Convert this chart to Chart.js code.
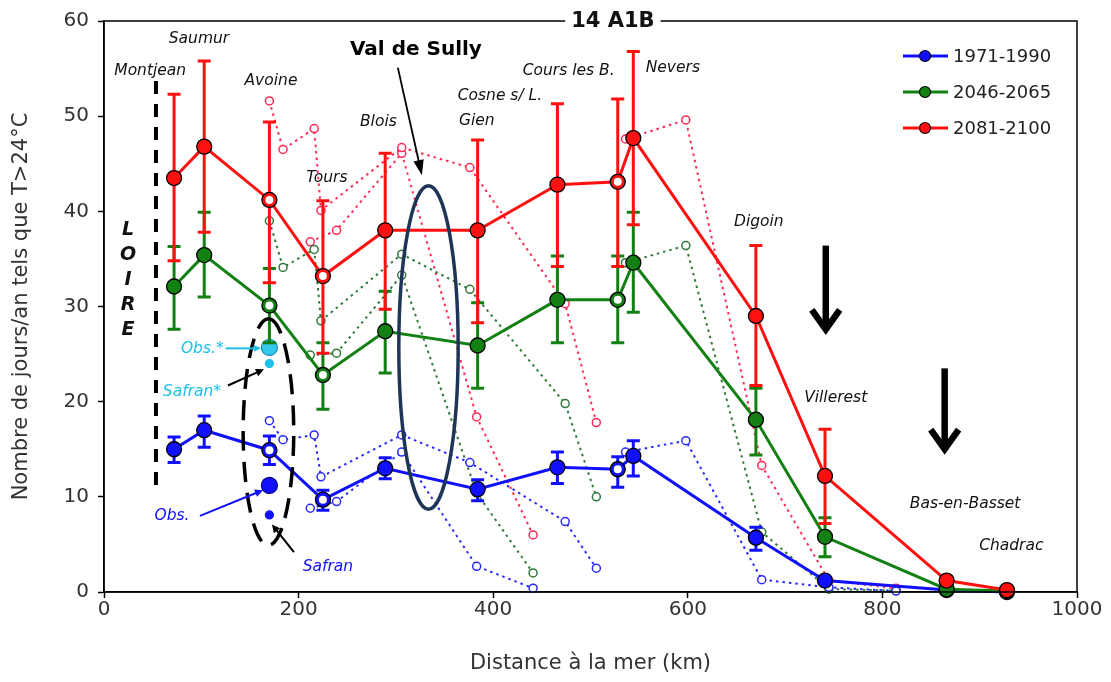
<!DOCTYPE html>
<html>
<head>
<meta charset="utf-8">
<script src="https://cdn.jsdelivr.net/npm/chart.js@4.4.1/dist/chart.umd.min.js"></script>
<style>
  html, body { margin: 0; padding: 0; background: #fff; }
</style>
</head>
<body>
<canvas id="chart" width="1111" height="682"></canvas>
<script>
// stations along the Loire, distance to the sea (km)
const stations = ['Montjean', 'Saumur', 'Avoine', 'Tours', 'Blois', 'Gien', 'Cosne s/ L.',
  'Cours les B.', 'Nevers', 'Digoin', 'Villerest', 'Bas-en-Basset', 'Chadrac'];
const distKm = [72, 103, 170, 225, 289, 384, 466, 528, 544, 670, 741, 866, 928];

// days/year with T > 24°C, with spread
const ref1971 = [15.0, 17.0, 14.9, 9.7, 13.0, 10.8, 13.1, 12.9, 14.3, 5.7, 1.2, 0.2, 0.0];
const ref1971Low = [13.6, 15.2, 13.4, 8.6, 11.9, 9.6, 11.4, 11.0, 12.2, 4.4, null, null, null];
const ref1971High = [16.3, 18.5, 16.4, 10.7, 14.1, 11.8, 14.7, 14.2, 15.9, 6.8, null, null, null];
const mid2046 = [32.1, 35.4, 30.1, 22.8, 27.4, 25.9, 30.7, 30.7, 34.6, 18.1, 5.8, 0.3, 0.1];
const mid2046Low = [27.6, 31.0, 26.2, 19.2, 23.0, 21.4, 26.2, 26.2, 29.4, 14.4, 3.7, null, null];
const mid2046High = [36.3, 39.9, 34.0, 26.2, 31.6, 30.4, 35.3, 35.3, 39.9, 21.4, 7.8, null, null];
const end2081 = [43.5, 46.8, 41.2, 33.2, 38.0, 38.0, 42.8, 43.1, 47.7, 29.0, 12.2, 1.2, 0.2];
const end2081Low = [34.8, 37.8, 32.5, 25.1, 29.7, 28.3, 34.2, 34.2, 38.6, 21.7, 7.2, null, null];
const end2081High = [52.3, 55.8, 49.4, 41.1, 46.1, 47.5, 51.3, 51.8, 56.8, 36.4, 17.1, null, null];
const ringIdx = [2, 3, 7]; // stations drawn with an open centre

// tributaries (dotted)
const tribKmA = [170, 184, 216, 223, 306, 376, 474, 506];
const tribKmB = [212, 239, 306, 383, 441];
const tribKmC = [536, 598, 676, 745, 814];
const blueTribA = [18.0, 16.0, 16.5, 12.1, 16.5, 13.6, 7.4, 2.5];
const greenTribA = [39.0, 34.1, 36.0, 28.5, 35.5, 31.8, 19.8, 10.0];
const redTribA = [51.6, 46.5, 48.7, 40.1, 46.7, 44.6, 30.3, 17.8];
const blueTribB = [8.8, 9.5, 14.7, 2.7, 0.4];
const greenTribB = [24.9, 25.1, 33.3, 10.4, 2.0];
const redTribB = [36.8, 38.0, 46.1, 18.4, 6.0];
const blueTribC = [14.7, 15.9, 1.3, 0.5, 0.1];
const greenTribC = [34.6, 36.4, 6.3, 0.3, 0.15];
const redTribC = [47.6, 49.6, 13.3, 1.2, 0.4];

// observations at Avoine
const obsKm = [170];
const obsStar = [25.7];
const safranStar = [24.0];
const obsVal = [11.2];
const safranVal = [8.1];

const xTicks = [0, 200, 400, 600, 800, 1000];
const yTicks = [0, 10, 20, 30, 40, 50, 60];

const BLUE = '#1010ff', GREEN = '#138013', RED = '#ff1010';
const FONT = "'DejaVu Sans', sans-serif";

const pts = (xs, ys) => xs.map((x, i) => ({ x: x, y: ys[i] }));

function mainSet(label, ys, lo, hi, color, order) {
  return {
    label: label, data: pts(distKm, ys), errLow: lo, errHigh: hi, main: true,
    showLine: true, borderColor: color, borderWidth: 3, backgroundColor: color,
    pointRadius: 7.5, pointBackgroundColor: color, pointBorderColor: '#000', pointBorderWidth: 1.3,
    order: order, clip: false
  };
}
function tribSet(xs, ys, color) {
  return {
    label: '', data: pts(xs, ys), showLine: true, borderColor: color, borderWidth: 2,
    borderDash: [2.5, 4], pointRadius: 4, pointBackgroundColor: '#fff',
    pointBorderColor: color, pointBorderWidth: 1.5, order: 10, clip: false
  };
}
function dotSet(ys, r, fill, border) {
  return {
    label: '', data: pts(obsKm, ys), showLine: false, pointRadius: r,
    pointBackgroundColor: fill, pointBorderColor: border, pointBorderWidth: 1.2, order: 5
  };
}

function arrow(ctx, x1, y1, x2, y2, color, lw, head, spread, open) {
  const a = Math.atan2(y2 - y1, x2 - x1);
  ctx.save();
  ctx.strokeStyle = color; ctx.fillStyle = color; ctx.lineWidth = lw;
  ctx.beginPath();
  ctx.moveTo(x1, y1);
  if (open) ctx.lineTo(x2, y2);
  else ctx.lineTo(x2 - head * 0.7 * Math.cos(a), y2 - head * 0.7 * Math.sin(a));
  ctx.stroke();
  ctx.beginPath();
  ctx.moveTo(x2 - head * Math.cos(a - spread), y2 - head * Math.sin(a - spread));
  ctx.lineTo(x2, y2);
  ctx.lineTo(x2 - head * Math.cos(a + spread), y2 - head * Math.sin(a + spread));
  if (open) ctx.stroke(); else { ctx.closePath(); ctx.fill(); }
  ctx.restore();
}

const errorBars = {
  id: 'errorBars',
  beforeDatasetDraw(chart, args) {
    const ds = chart.data.datasets[args.index];
    if (!ds.errLow) return;
    const ctx = chart.ctx, y = chart.scales.y;
    ctx.save();
    ctx.strokeStyle = ds.borderColor; ctx.lineWidth = 3;
    ds.errLow.forEach((lo, i) => {
      if (lo == null) return;
      const xp = args.meta.data[i].x;
      const y1 = y.getPixelForValue(lo), y2 = y.getPixelForValue(ds.errHigh[i]);
      ctx.beginPath();
      ctx.moveTo(xp, y1); ctx.lineTo(xp, y2);
      ctx.moveTo(xp - 6.5, y1); ctx.lineTo(xp + 6.5, y1);
      ctx.moveTo(xp - 6.5, y2); ctx.lineTo(xp + 6.5, y2);
      ctx.stroke();
    });
    ctx.restore();
  },
  afterDatasetDraw(chart, args) {
    const ds = chart.data.datasets[args.index];
    if (!ds.main) return;
    const ctx = chart.ctx;
    ctx.save();
    ctx.fillStyle = '#fff';
    ringIdx.forEach(i => {
      const p = args.meta.data[i];
      ctx.beginPath(); ctx.arc(p.x, p.y, 4, 0, Math.PI * 2); ctx.fill();
    });
    ctx.restore();
  }
};

const decorations = {
  id: 'decorations',
  afterDatasetsDraw(chart) {
    const ctx = chart.ctx, sx = chart.scales.x, sy = chart.scales.y, area = chart.chartArea;
    const X = v => sx.getPixelForValue(v), Y = v => sy.getPixelForValue(v);
    ctx.save();

    // dashed "LOIRE" line
    ctx.strokeStyle = '#000'; ctx.lineWidth = 4; ctx.setLineDash([13, 10]);
    ctx.beginPath(); ctx.moveTo(X(53.4), Y(53.7)); ctx.lineTo(X(53.4), Y(11)); ctx.stroke();

    // dashed ellipse round the Avoine observations
    ctx.setLineDash([20, 11]); ctx.lineWidth = 3.5;
    ctx.beginPath();
    ctx.ellipse((X(143) + X(195)) / 2, (Y(28.7) + Y(4.9)) / 2, (X(195) - X(143)) / 2, (Y(4.9) - Y(28.7)) / 2, 0, -Math.PI / 2, Math.PI * 1.5);
    ctx.stroke();
    ctx.setLineDash([]);

    // Val de Sully ellipse
    ctx.strokeStyle = '#1f3558'; ctx.lineWidth = 3.5;
    ctx.beginPath();
    ctx.ellipse((X(303) + X(364)) / 2, (Y(42.7) + Y(8.7)) / 2, (X(364) - X(303)) / 2, (Y(8.7) - Y(42.7)) / 2, 0, 0, Math.PI * 2);
    ctx.stroke();

    // site names
    ctx.fillStyle = '#111'; ctx.font = 'italic 15.5px ' + FONT;
    ctx.textAlign = 'center'; ctx.textBaseline = 'middle';
    [['Saumur', 97.6, 58.1], ['Montjean', 47.5, 54.7], ['Avoine', 171.6, 53.7], ['Tours', 229, 43.5],
     ['Blois', 282, 49.4], ['Cosne s/ L.', 406.9, 52.1], ['Gien', 383.2, 49.5], ['Cours les B.', 477.5, 54.8],
     ['Nevers', 584.6, 55.1], ['Digoin', 673, 38.9], ['Villerest', 752, 20.35],
     ['Bas-en-Basset', 885, 9.2], ['Chadrac', 932.5, 4.8]].forEach(t => ctx.fillText(t[0], X(t[1]), Y(t[2])));

    // LOIRE
    ctx.font = 'bold italic 19px ' + FONT;
    [['L', 38.0], ['O', 35.4], ['I', 32.8], ['R', 30.1], ['E', 27.5]].forEach(t => ctx.fillText(t[0], X(24.7), Y(t[1])));

    // observation labels and arrows
    ctx.font = 'italic 15.5px ' + FONT;
    ctx.fillStyle = '#1ec0e8';
    ctx.textAlign = 'right'; ctx.fillText('Obs.*', X(123), Y(25.5));
    ctx.textAlign = 'center'; ctx.fillText('Safran*', X(90.4), Y(21.0));
    ctx.fillStyle = BLUE;
    ctx.fillText('Obs.', X(69.9), Y(8.0));
    ctx.fillText('Safran', X(230.1), Y(2.6));
    arrow(ctx, X(125), Y(25.6), X(161.5), Y(25.6), '#1ec0e8', 2, 8, 0.45, false);
    arrow(ctx, X(127.4), Y(21.7), X(164.4), Y(23.4), '#000', 2, 9, 0.45, false);
    arrow(ctx, X(98.6), Y(8.0), X(163.5), Y(10.7), BLUE, 2, 9, 0.45, false);
    arrow(ctx, X(195.2), Y(4.2), X(172.6), Y(7.1), '#000', 2, 9, 0.45, false);

    // Val de Sully
    ctx.fillStyle = '#000'; ctx.font = 'bold 20px ' + FONT;
    ctx.fillText('Val de Sully', X(320.6), Y(57.0));
    arrow(ctx, X(302), Y(55.1), X(326.7), Y(43.8), '#000', 1.8, 16, 0.33, false);

    // big downward arrows
    arrow(ctx, X(741.8), Y(36.4), X(741.8), Y(27.6), '#000', 6.5, 24, 0.62, true);
    arrow(ctx, X(864), Y(23.5), X(864), Y(15.0), '#000', 6.5, 24, 0.62, true);

    // frame + title cutting the top edge
    ctx.strokeStyle = '#000'; ctx.lineWidth = 1.5;
    ctx.strokeRect(area.left, area.top, area.right - area.left, area.bottom - area.top);
    ctx.fillStyle = '#fff';
    ctx.fillRect(X(474), area.top - 4, X(572) - X(474), 8);
    ctx.fillStyle = '#111'; ctx.font = 'bold 21px ' + FONT;
    ctx.fillText('14 A1B', X(523), area.top + 1);

    // legend
    const lx = area.right - 174;
    ctx.font = '18px ' + FONT; ctx.textAlign = 'left';
    chart.data.datasets.filter(d => d.main).slice().reverse().forEach((d, i) => {
      const ly = area.top + 35 + i * 36;
      ctx.strokeStyle = d.borderColor; ctx.lineWidth = 3;
      ctx.beginPath(); ctx.moveTo(lx, ly); ctx.lineTo(lx + 45, ly); ctx.stroke();
      ctx.fillStyle = d.borderColor; ctx.strokeStyle = '#000'; ctx.lineWidth = 1.2;
      ctx.beginPath(); ctx.arc(lx + 22, ly, 5.5, 0, Math.PI * 2); ctx.fill(); ctx.stroke();
      ctx.fillStyle = '#222'; ctx.fillText(d.label, lx + 50, ly + 1);
    });
    ctx.restore();
  }
};

new Chart(document.getElementById('chart'), {
  type: 'scatter',
  data: {
    datasets: [
      mainSet('2081-2100', end2081, end2081Low, end2081High, RED, 0),
      mainSet('2046-2065', mid2046, mid2046Low, mid2046High, GREEN, 1),
      mainSet('1971-1990', ref1971, ref1971Low, ref1971High, BLUE, 2),
      dotSet(obsStar, 8, '#34c8ee', '#1b8fb3'),
      dotSet(safranStar, 4, '#1ec0e8', '#1ec0e8'),
      dotSet(obsVal, 8, BLUE, '#000080'),
      dotSet(safranVal, 4, BLUE, BLUE),
      tribSet(tribKmA, blueTribA, '#2a2aff'),
      tribSet(tribKmB, blueTribB, '#2a2aff'),
      tribSet(tribKmC, blueTribC, '#2a2aff'),
      tribSet(tribKmA, greenTribA, '#2f7a3a'),
      tribSet(tribKmB, greenTribB, '#2f7a3a'),
      tribSet(tribKmC, greenTribC, '#2f7a3a'),
      tribSet(tribKmA, redTribA, '#ff2a55'),
      tribSet(tribKmB, redTribB, '#ff2a55'),
      tribSet(tribKmC, redTribC, '#ff2a55')
    ]
  },
  options: {
    responsive: false,
    animation: false,
    layout: { padding: { top: 20, right: 34, bottom: 0, left: 0 } },
    plugins: { legend: { display: false }, tooltip: { enabled: false } },
    scales: {
      x: {
        type: 'linear', min: 0, max: 1000,
        afterBuildTicks: s => { s.ticks = xTicks.map(v => ({ value: v })); },
        afterFit: s => { s.height = 90; },
        grid: { drawOnChartArea: false, tickLength: 6, color: '#000', tickWidth: 1.5 },
        border: { color: '#000', width: 1.5 },
        ticks: { color: '#333', font: { family: FONT, size: 20 }, padding: 0, callback: v => String(v) },
        title: { display: true, text: 'Distance à la mer (km)', color: '#333',
          font: { family: FONT, size: 21 }, padding: { top: 0, bottom: 6 } }
      },
      y: {
        min: 0, max: 60,
        afterBuildTicks: s => { s.ticks = yTicks.map(v => ({ value: v })); },
        afterFit: s => { s.width = 104; },
        grid: { drawOnChartArea: false, tickLength: 6, color: '#000', tickWidth: 1.5 },
        border: { color: '#000', width: 1.5 },
        ticks: { color: '#333', font: { family: FONT, size: 20 }, padding: 9, callback: v => String(v) },
        title: { display: true, text: 'Nombre de jours/an tels que T>24°C', color: '#333',
          font: { family: FONT, size: 21 }, padding: { top: 9, bottom: 0 } }
      }
    }
  },
  plugins: [errorBars, decorations]
});
</script>
</body>
</html>
